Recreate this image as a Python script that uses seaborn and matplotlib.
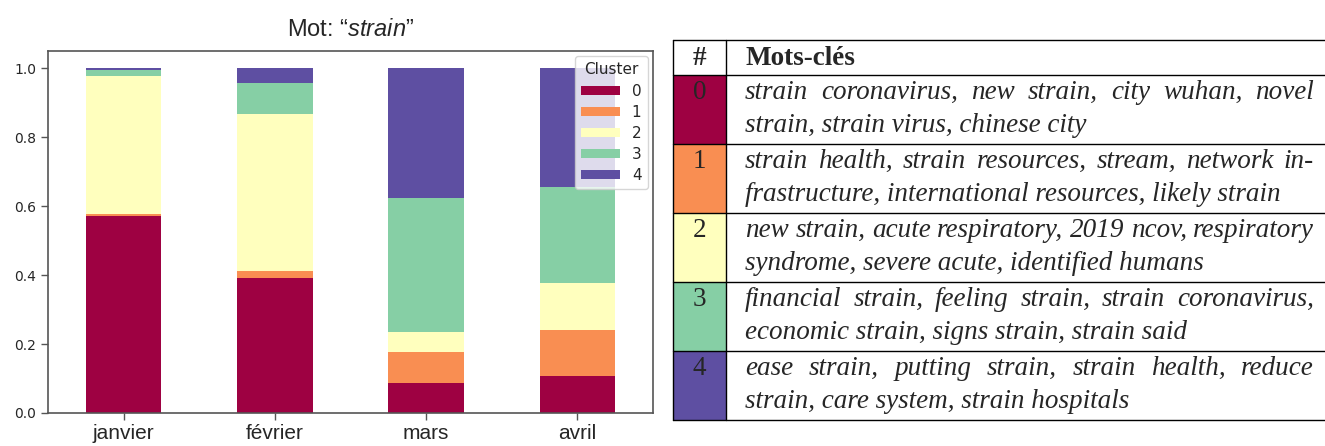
import numpy as np
import matplotlib
matplotlib.use("Agg")
import matplotlib.pyplot as plt
import seaborn as sns
from matplotlib.patches import Patch, Rectangle

months = ["janvier", "février", "mars", "avril"]
clusters = ["0", "1", "2", "3", "4"]

# share of each cluster per month
c0 = [0.570, 0.391, 0.086, 0.106]
c1 = [0.006, 0.020, 0.090, 0.136]
c2 = [0.401, 0.455, 0.060, 0.134]
c3 = [0.018, 0.091, 0.389, 0.279]
c4 = [0.005, 0.043, 0.375, 0.345]
shares = [c0, c1, c2, c3, c4]

# keywords per cluster, as the two printed lines of each cell
kw_lines = [
    ["strain coronavirus, new strain, city wuhan, novel", "strain, strain virus, chinese city"],
    ["strain health, strain resources, stream, network in-", "frastructure, international resources, likely strain"],
    ["new strain, acute respiratory, 2019 ncov, respiratory", "syndrome, severe acute, identified humans"],
    ["financial strain, feeling strain, strain coronavirus,", "economic strain, signs strain, strain said"],
    ["ease strain, putting strain, strain health, reduce", "strain, care system, strain hospitals"],
]

sns.set_style("ticks")
plt.rcParams["font.family"] = ["DejaVu Sans"]
plt.rcParams["mathtext.fontset"] = "custom"
plt.rcParams["mathtext.rm"] = "Liberation Sans"
plt.rcParams["mathtext.it"] = "Liberation Sans:italic"

palette = [tuple(c) for c in plt.get_cmap("Spectral")(np.linspace(0, 1, len(clusters)))]

W, H = 1325, 446
fig = plt.figure(figsize=(W / 100, H / 100), dpi=100)
ax = fig.add_axes([48 / W, (H - 413) / H, (653 - 48) / W, (413 - 51) / H])

bottom = np.zeros(len(months))
for vals, col in zip(shares, palette):
    sns.barplot(x=months, y=vals, bottom=bottom, color=col, saturation=1,
                width=0.5, linewidth=0, errorbar=None, ax=ax)
    bottom += np.array(vals)

ax.set_ylim(0, 1.05)
ax.set_yticks(np.arange(0, 1.01, 0.2))
ax.set_yticklabels([f"{v:.1f}" for v in np.arange(0, 1.01, 0.2)], fontsize=10)
for lab in ax.get_xticklabels():
    lab.set_fontfamily("Liberation Sans")
    lab.set_fontsize(15)
ax.tick_params(axis="both", length=5, width=1, color="#555555")
ax.tick_params(axis="x", pad=3)
for sp in ax.spines.values():
    sp.set_visible(True)
    sp.set_color("#555555")
    sp.set_linewidth(1.2)
ax.set_xlabel("")
ax.set_ylabel("")
ax.set_title("Mot: “$\\mathit{strain}$”", fontfamily="Liberation Sans", fontsize=17, pad=11)

handles = [Patch(facecolor=c, edgecolor="none") for c in palette]
ax.legend(handles, clusters, title="Cluster", loc="upper right", fontsize=11,
          title_fontsize=11, handlelength=2.5, handleheight=0.55, labelspacing=0.4,
          borderaxespad=0.35, frameon=True, framealpha=0.8, edgecolor="0.8", fancybox=True)

# keyword table on the right, drawn in pixel coordinates
tab = fig.add_axes([0, 0, 1, 1])
tab.set_xlim(0, W)
tab.set_ylim(H, 0)
tab.axis("off")

left, mid, right = 673, 726, W
head_top, head_bot = 40, 74.5
row_h = 69.1
txt_x, txt_r = 745, 1314
serif = "Liberation Serif"
fs = 19.5

rows_y = [head_bot + i * row_h for i in range(len(clusters) + 1)]
for i, col in enumerate(palette):
    tab.add_patch(Rectangle((left, rows_y[i]), mid - left, row_h, facecolor=col, edgecolor="none"))
for y in [head_top] + rows_y:
    tab.plot([left, right], [y, y], color="black", lw=1.0)
for x in [left, mid]:
    tab.plot([x, x], [head_top, rows_y[-1]], color="black", lw=1.0)

tab.text((left + mid) / 2, head_top + 25, "#", fontfamily=serif, fontweight="bold",
         fontsize=fs, ha="center", va="baseline")
tab.text(txt_x, head_top + 25, "Mots-clés", fontfamily=serif, fontweight="bold",
         fontsize=fs, ha="left", va="baseline")

renderer = fig.canvas.get_renderer()


def justified(line, y):
    words = line.split(" ")
    texts = [tab.text(txt_x, y, w, fontfamily=serif, fontstyle="italic", fontsize=fs,
                      ha="left", va="baseline") for w in words]
    widths = [t.get_window_extent(renderer=renderer).width for t in texts]
    gap = (txt_r - txt_x - sum(widths)) / (len(words) - 1)
    x = txt_x
    for t, w in zip(texts, widths):
        t.set_x(x)
        x += w + gap


for i, (l1, l2) in enumerate(kw_lines):
    top = rows_y[i]
    tab.text((left + mid) / 2, top + 24.5, clusters[i], fontfamily=serif, fontsize=fs,
             ha="center", va="baseline")
    justified(l1, top + 24.5)
    tab.text(txt_x, top + 57, l2, fontfamily=serif, fontstyle="italic", fontsize=fs,
             ha="left", va="baseline")

fig.savefig("out.png", dpi=100)
